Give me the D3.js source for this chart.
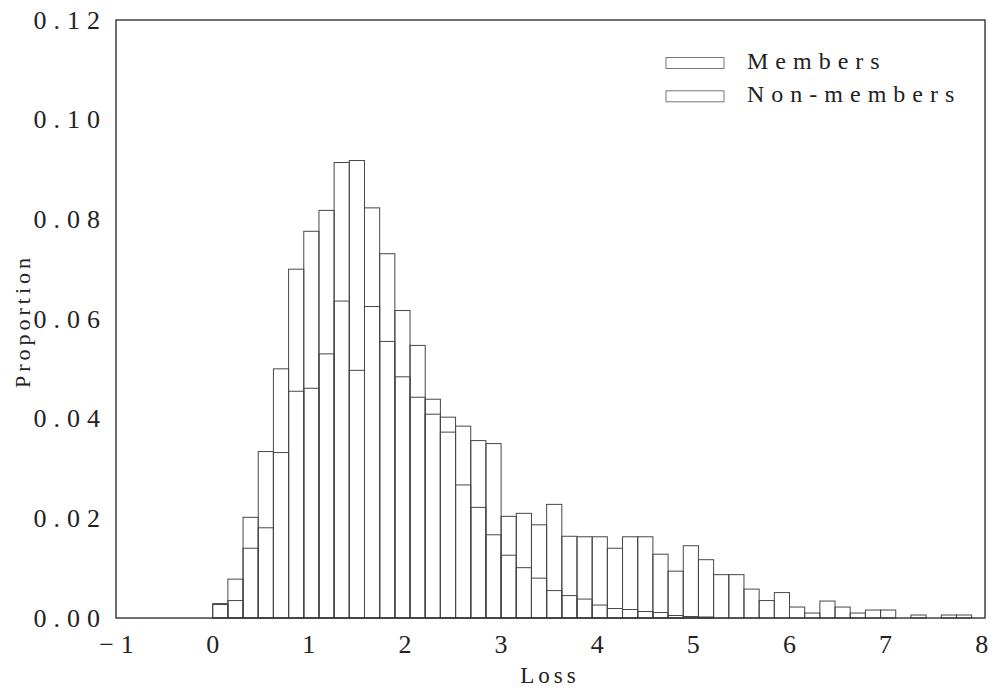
<!DOCTYPE html>
<html>
<head>
<meta charset="utf-8">
<style>
  body { margin: 0; background: #fff; }
  text { font-family: "Liberation Serif", "Times New Roman", serif; fill: #222; }
</style>
<script type="text/javascript" src="https://d3js.org/d3.v7.min.js"></script>
</head>
<body>
<svg width="994" height="691"></svg>
<script>
    // histogram proportions, one value per bin (50 bins)
    var members = [0.0029, 0.0078, 0.0202, 0.0334, 0.0500, 0.0700, 0.0776, 0.0818, 0.0914, 0.0918,
        0.0823, 0.0731, 0.0617, 0.0547, 0.0439, 0.0373, 0.0267, 0.0222, 0.0167, 0.0126,
        0.0101, 0.0080, 0.0055, 0.0045, 0.0038, 0.0026, 0.0019, 0.0017, 0.0013, 0.0011,
        0.0005, 0.0003, 0.0002, 0, 0, 0, 0, 0, 0, 0,
        0, 0, 0, 0, 0, 0, 0, 0, 0, 0];
    var nonMembers = [0.0027, 0.0035, 0.0140, 0.0181, 0.0332, 0.0455, 0.0461, 0.0530, 0.0636, 0.0497,
        0.0625, 0.0555, 0.0484, 0.0443, 0.0409, 0.0403, 0.0385, 0.0356, 0.0350, 0.0204,
        0.0210, 0.0187, 0.0228, 0.0164, 0.0163, 0.0163, 0.0140, 0.0163, 0.0163, 0.0128,
        0.0094, 0.0145, 0.0117, 0.0087, 0.0087, 0.0058, 0.0035, 0.0051, 0.0022, 0.0010,
        0.0034, 0.0022, 0.0010, 0.0016, 0.0016, 0, 0.0006, 0, 0.0006, 0.0006];
    var binStart = 0.006;
    var binWidth = 0.1579;
    var seriesNames = ["Members", "Non-members"];
    var xTicks = [-1, 0, 1, 2, 3, 4, 5, 6, 7, 8];
    var yTicks = [0, 0.02, 0.04, 0.06, 0.08, 0.10, 0.12];

    var svg = d3.select("svg");
    var plotLeft = 116, plotRight = 985, plotTop = 20, plotBottom = 618;

    var x = d3.scaleLinear().domain([-1, 8.04]).range([plotLeft, plotRight]);
    var y = d3.scaleLinear().domain([0, 0.12]).range([plotBottom, plotTop]);

    function bins(values) {
        return values.map(function (v, i) {
            return { x0: binStart + i * binWidth, x1: binStart + (i + 1) * binWidth, value: v };
        }).filter(function (d) { return d.value > 0; });
    }

    var g = svg.append("g");
    [nonMembers, members].forEach(function (series) {
        g.append("g").selectAll("rect")
            .data(bins(series))
            .enter().append("rect")
            .attr("x", function (d) { return x(d.x0); })
            .attr("y", function (d) { return y(d.value); })
            .attr("width", function (d) { return x(d.x1) - x(d.x0); })
            .attr("height", function (d) { return y(0) - y(d.value); })
            .attr("fill", "none")
            .attr("stroke", "#474747")
            .attr("stroke-width", 1);
    });

    // frame
    svg.append("rect")
        .attr("x", plotLeft).attr("y", plotTop)
        .attr("width", plotRight - plotLeft).attr("height", plotBottom - plotTop)
        .attr("fill", "none")
        .attr("stroke", "#333")
        .attr("stroke-width", 1.4);

    // axes
    var yAxis = svg.append("g")
        .attr("transform", "translate(" + plotLeft + ",0)")
        .call(d3.axisLeft(y).tickValues(yTicks).tickFormat(d3.format(".2f")).tickSize(0).tickPadding(9));
    yAxis.select(".domain").remove();
    yAxis.selectAll("text")
        .attr("font-size", "26px")
        .attr("letter-spacing", "7px")
        .attr("font-family", "Liberation Serif")
        .attr("fill", "#222");

    var xAxis = svg.append("g")
        .attr("transform", "translate(0," + plotBottom + ")")
        .call(d3.axisBottom(x).tickValues(xTicks).tickFormat(d3.format("d")).tickSize(0).tickPadding(17));
    xAxis.select(".domain").remove();
    xAxis.selectAll("text")
        .attr("font-size", "26px")
        .attr("letter-spacing", "7px")
        .attr("dx", "3.5px")
        .attr("font-family", "Liberation Serif")
        .attr("fill", "#222");

    svg.append("text")
        .attr("x", 550)
        .attr("y", 683)
        .attr("text-anchor", "middle")
        .attr("font-size", "23px")
        .attr("letter-spacing", "4px")
        .text("Loss");

    svg.append("text")
        .attr("transform", "translate(30,321) rotate(-90)")
        .attr("text-anchor", "middle")
        .attr("font-size", "22px")
        .attr("letter-spacing", "4px")
        .text("Proportion");

    // legend
    var legend = svg.append("g").selectAll("g")
        .data(seriesNames)
        .enter().append("g")
        .attr("transform", function (d, i) { return "translate(666," + (57.5 + i * 33.3) + ")"; });
    legend.append("rect")
        .attr("width", 58)
        .attr("height", 11)
        .attr("fill", "#fff")
        .attr("stroke", "#777")
        .attr("stroke-width", 1);
    legend.append("text")
        .attr("x", 81)
        .attr("y", 11)
        .attr("font-size", "24px")
        .attr("letter-spacing", "7px")
        .text(function (d) { return d; });
</script>
</body>
</html>
